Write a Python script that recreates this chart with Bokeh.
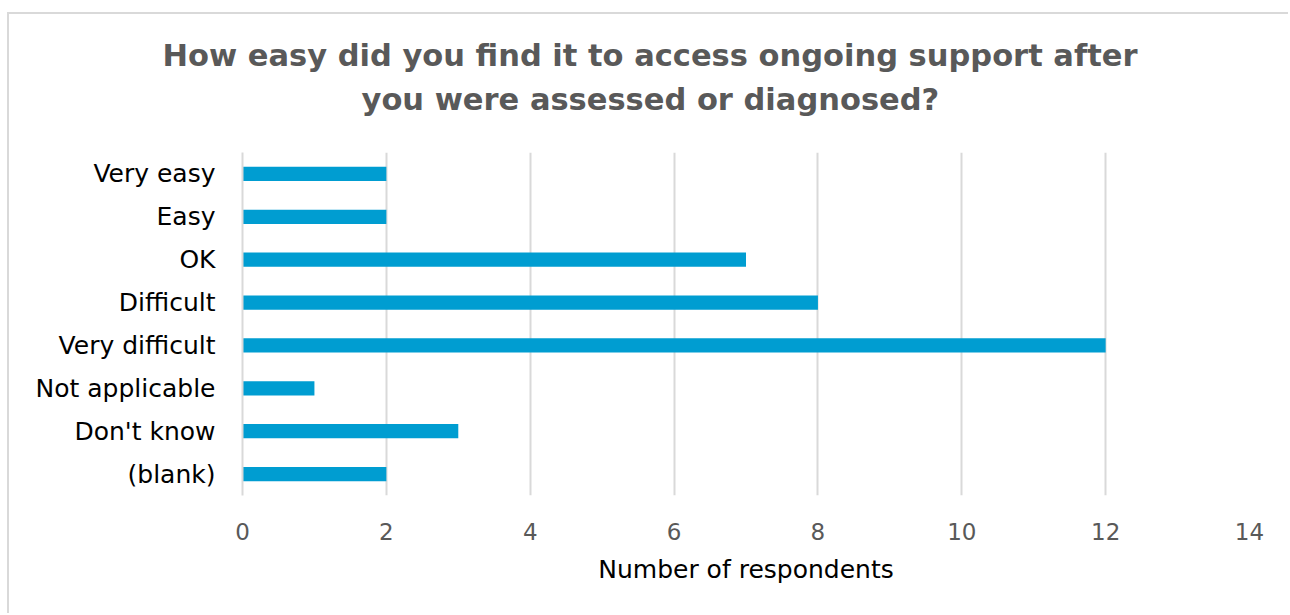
from bokeh.plotting import figure
from bokeh.models import Range1d, FactorRange, FixedTicker, Title, LinearAxis
from bokeh.embed import file_html
from bokeh.resources import INLINE

# Survey responses: how easy it was to access ongoing support
categories = ["Very easy", "Easy", "OK", "Difficult", "Very difficult",
              "Not applicable", "Don't know", "(blank)"]
respondents = [2, 2, 7, 8, 12, 1, 3, 2]
x_ticks = [0, 2, 4, 6, 8, 10, 12, 14]
title_lines = ["How easy did you find it to access ongoing support after",
               "you were assessed or diagnosed?"]

FONT = "DejaVu Sans"
BAR_COLOR = "#009DD1"
GRID_COLOR = "#D9D9D9"

# first factor sits at the bottom of a categorical y range, so reverse
y_factors = list(reversed(categories))

p = figure(
    width=1281, height=601,
    y_range=FactorRange(factors=y_factors, range_padding=0),
    x_range=Range1d(0, 14),
    output_backend="svg", toolbar_location=None,
    min_border_left=233, min_border_right=41,
    min_border_top=138, min_border_bottom=120,
    background_fill_color="white", border_fill_color="white",
    outline_line_color=None,
)
# light frame around the whole chart
p.styles = {
    "margin-left": "7px", "margin-top": "12px",
    "border-left": "2px solid #D9D9D9", "border-top": "2px solid #D9D9D9",
}

p.hbar(y=categories, right=respondents, left=0, height=0.33,
       color=BAR_COLOR, line_color=None)

# x axis
xa = p.below[0]
xa.ticker = FixedTicker(ticks=x_ticks)
xa.axis_line_color = None
xa.major_tick_line_color = None
xa.minor_tick_line_color = None
xa.major_label_text_font = FONT
xa.major_label_text_font_size = "23px"
xa.major_label_text_color = "#595959"
xa.major_label_standoff = 21
xa.axis_label = "Number of respondents"
xa.axis_label_text_font = FONT
xa.axis_label_text_font_size = "25px"
xa.axis_label_text_font_style = "normal"
xa.axis_label_text_color = "#000000"
xa.axis_label_standoff = 12

# y axis
ya = p.left[0]
ya.axis_line_color = GRID_COLOR
ya.axis_line_width = 2
ya.major_tick_line_color = None
ya.minor_tick_line_color = None
ya.major_label_text_font = FONT
ya.major_label_text_font_size = "25px"
ya.major_label_text_color = "#000000"
ya.major_label_standoff = 21

# grid
p.xgrid.grid_line_color = GRID_COLOR
p.xgrid.grid_line_width = 2
p.ygrid.grid_line_color = None

# blank gap between the plot frame and the title block: a bare axis whose
# single white tick gives the panel its height, with labels switched off
spacer = LinearAxis(ticker=FixedTicker(ticks=[0]), axis_line_color=None,
                    major_tick_line_color="white", minor_tick_line_color=None,
                    major_tick_out=28, minor_tick_out=0, major_tick_in=0,
                    minor_tick_in=0, major_label_standoff=0,
                    major_label_text_color=None,
                    major_label_text_font_size="1px")
p.add_layout(spacer, "above")

# two-line title, each line left-aligned with an offset so both are centred
# over the chart body rather than over the plot frame
title_style = dict(align="left", text_font=FONT, text_font_size="30.5px",
                   text_font_style="bold", text_color="#595959")
p.add_layout(Title(text=title_lines[1], offset=119, standoff=15, **title_style), "above")
p.add_layout(Title(text=title_lines[0], offset=-80, standoff=0, **title_style), "above")

open("out.html", "w").write(file_html(p, INLINE))
